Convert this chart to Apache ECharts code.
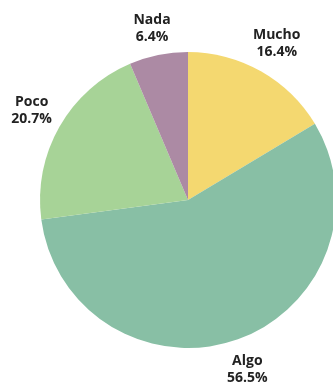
<!DOCTYPE html>
<html>
<head>
<meta charset="utf-8">
<script src="https://cdn.jsdelivr.net/npm/echarts@6/dist/echarts.min.js"></script>
<style>
  html, body { margin: 0; padding: 0; background: #ffffff; }
  #chart { width: 333px; height: 385px; }
</style>
</head>
<body>
<div id="chart"></div>
<script>
// Survey answers, clockwise from the top
const categories = ['Mucho', 'Algo', 'Poco', 'Nada'];
const shares = [16.4, 56.5, 20.7, 6.4];
const sliceColors = ['#F4D870', '#88BFA5', '#A7D397', '#AC8AA4'];

const pieData = categories.map((name, i) => ({
  name: name,
  value: shares[i],
  itemStyle: { color: sliceColors[i] }
}));

const center = [188, 200];

// small nudge so the narrow top slice keeps its label close to the rim
const labelNudge = { Nada: [0, 5] };

const chart = echarts.init(document.getElementById('chart'), null, { renderer: 'canvas' });
chart.setOption({
  backgroundColor: '#ffffff',
  animation: false,
  series: [
    {
      // the visible pie
      type: 'pie',
      center: center,
      radius: 148,
      startAngle: 90,
      clockwise: true,
      silent: true,
      label: { show: false },
      labelLine: { show: false },
      itemStyle: { borderWidth: 0 },
      data: pieData
    },
    {
      // an invisible, wider ring that places each label on its slice's mid-angle
      type: 'pie',
      center: center,
      radius: [0, 354],
      startAngle: 90,
      clockwise: true,
      silent: true,
      z: 3,
      itemStyle: { color: 'rgba(0,0,0,0)', borderWidth: 0 },
      labelLine: { show: false },
      label: {
        show: true,
        position: 'inside',
        fontFamily: 'Open Sans',
        fontWeight: 'bold',
        fontSize: 14,
        lineHeight: 17,
        color: '#222222',
        align: 'center',
        formatter: p => p.name + '\n' + p.value.toFixed(1) + '%'
      },
      data: categories.map((name, i) => ({
        name: name,
        value: shares[i],
        label: labelNudge[name] ? { offset: labelNudge[name] } : undefined
      }))
    }
  ]
});
</script>
</body>
</html>
